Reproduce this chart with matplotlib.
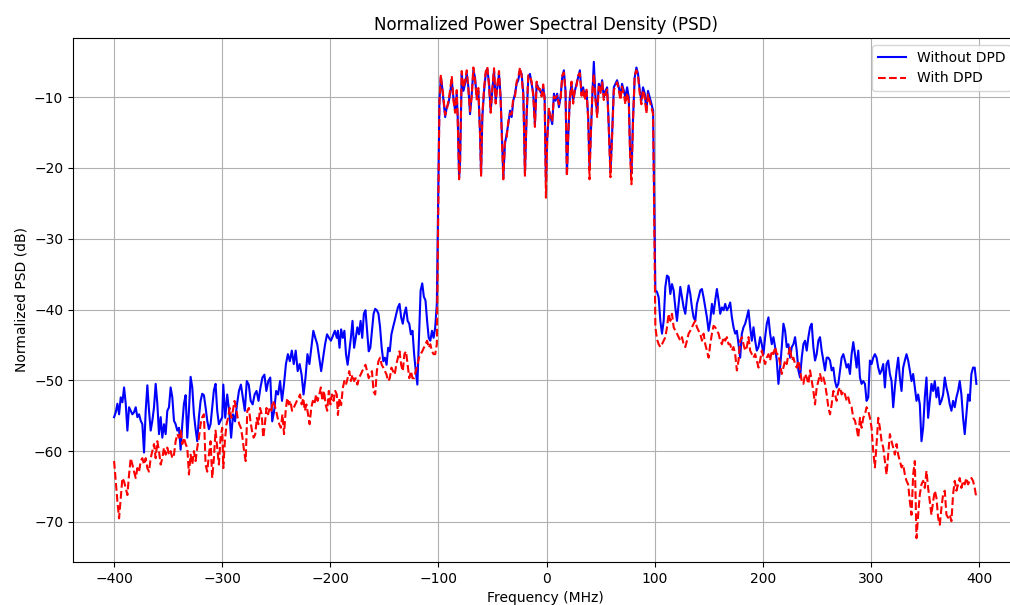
import numpy as np
import matplotlib.pyplot as plt

# PSD values (dB), out-of-band split in stretches
# lower sideband: -400..-300, -300..-195, -195..-100 MHz
no_dpd_a = [-55.2, -54.5, -53.3, -54.8, -52.4, -53.1, -51.0, -53.3, -57.1, -53.8,
            -54.3, -54.8, -54.5, -53.8, -55.2, -54.8, -55.7, -56.2, -60.2, -54.3,
            -50.7, -54.3, -57.1, -55.7, -53.8, -50.5, -53.3, -57.6, -55.2, -58.1,
            -56.2, -57.6, -54.3, -53.8, -51.0, -52.4, -55.7, -56.2, -57.1, -56.7,
            -59.8, -56.2, -53.3, -52.1, -58.1, -54.3, -49.5, -51.0, -54.8, -56.9,
            -58.6, -55.2, -52.9, -51.9, -52.1, -53.8, -55.7, -56.9, -56.2, -53.8,
            -51.4, -50.5, -54.3, -56.2, -55.7, -55.2]
no_dpd_b = [-50.6, -55.3, -52.0, -54.3, -58.1, -54.8, -55.8, -53.4, -51.5, -50.6,
            -52.5, -54.3, -50.1, -50.6, -52.9, -53.4, -52.0, -51.5, -52.9, -51.0,
            -49.6, -49.2, -51.5, -50.1, -49.6, -55.8, -54.3, -51.5, -52.0, -50.1,
            -52.9, -50.6, -47.7, -46.3, -47.3, -45.8, -47.7, -45.8, -48.7, -47.7,
            -49.2, -52.0, -49.6, -46.3, -47.7, -45.4, -43.0, -44.0, -44.9, -46.8,
            -48.7, -46.8, -44.9, -43.5, -44.0, -44.4, -43.7, -43.0, -44.0]
no_dpd_c = [-43.0, -45.4, -42.8, -44.0, -43.0, -46.3, -47.8, -45.9, -44.0, -41.6,
            -45.4, -44.0, -42.5, -43.5, -41.6, -44.0, -40.6, -40.1, -43.0, -45.9,
            -45.4, -43.0, -40.6, -39.9, -40.1, -40.6, -42.5, -45.4, -47.3, -46.8,
            -47.8, -45.4, -45.9, -43.5, -42.5, -41.6, -40.6, -39.7, -39.2, -41.1,
            -42.0, -40.6, -39.7, -41.6, -42.0, -43.5, -43.0, -46.3, -48.7, -50.6,
            -44.0, -37.3, -36.3, -38.2, -38.7, -41.6, -44.0, -44.4, -43.0, -44.0,
            -42.5, -39.2]

dpd_a = [-61.4, -64.3, -67.1, -69.5, -66.7, -63.8, -64.3, -65.2, -66.2, -63.3,
         -61.0, -61.9, -62.9, -63.8, -62.4, -62.9, -61.4, -61.0, -61.9, -61.0,
         -62.4, -62.9, -61.0, -60.0, -59.0, -61.0, -58.6, -60.0, -61.9, -61.0,
         -59.5, -60.5, -59.5, -60.5, -60.0, -61.0, -60.5, -58.6, -57.6, -58.1,
         -57.1, -59.0, -58.1, -59.0, -59.5, -63.3, -60.5, -61.9, -60.0, -61.4,
         -59.5, -58.1, -56.2, -55.2, -54.8, -61.9, -62.9, -60.5, -58.6, -63.8,
         -61.0, -57.1, -59.5, -61.9, -58.1, -56.7]
dpd_b = [-62.4, -58.6, -56.2, -55.3, -53.9, -55.3, -54.3, -52.9, -53.9, -55.3,
         -56.2, -56.7, -58.1, -60.0, -61.4, -54.3, -53.9, -55.8, -57.2, -58.1,
         -57.6, -55.3, -56.2, -53.9, -54.8, -58.1, -56.2, -53.9, -54.8, -53.9,
         -54.3, -52.9, -53.4, -54.3, -55.3, -56.2, -56.7, -54.8, -57.6, -54.3,
         -52.5, -53.4, -52.9, -54.3, -53.9, -53.4, -52.9, -52.5, -52.0, -53.4,
         -52.5, -54.3, -53.4, -54.8, -56.2, -53.9, -52.9, -53.4, -52.0, -52.9,
         -52.0, -51.0, -52.9, -51.5, -53.4, -54.3, -51.5, -53.4, -52.0, -52.9,
         -51.5, -52.0]
dpd_c = [-54.9, -52.5, -53.5, -51.1, -50.1, -50.6, -49.7, -48.7, -50.1, -49.2,
         -50.1, -49.7, -50.6, -49.7, -49.2, -48.7, -48.2, -47.8, -48.7, -49.7,
         -49.2, -48.7, -51.6, -52.0, -48.7, -47.3, -46.8, -47.8, -48.2, -48.7,
         -49.2, -50.1, -49.7, -48.2, -48.7, -49.2, -47.8, -46.8, -45.9, -47.8,
         -48.7, -46.3, -45.9, -47.8, -49.7, -48.7, -49.7, -49.7, -48.7, -47.8,
         -46.8, -46.3, -45.9, -45.4, -44.9, -44.4, -45.4, -44.9, -45.9, -46.3,
         -46.3, -44.9]

# occupied band, -100..100 MHz (dips every ~20 MHz)
band_freq = [-99.1, -97.8, -96.9, -96.0, -94.8, -93.8, -92.3, -90.8, -89.2, -87.7,
             -86.2, -84.6, -83.1, -82.2, -80.9, -80.0, -78.5, -76.9, -75.4, -73.8,
             -72.3, -70.8, -69.2, -67.7, -66.2, -64.6, -63.1, -61.5, -60.6, -59.4,
             -57.8, -56.3, -54.8, -53.2, -51.7, -50.2, -48.6, -47.1, -45.5, -44.0,
             -42.5, -41.2, -40.0, -38.5, -36.9, -35.4, -33.8, -32.3, -30.8, -29.2,
             -27.7, -26.2, -24.6, -23.1, -21.5, -20.0, -18.5, -16.9, -15.4, -13.8,
             -12.3, -10.8, -9.2, -7.7, -6.2, -4.6, -3.1, -1.8, -0.6, 0.6,
             2.2, 3.7, 5.2, 6.8, 8.3, 9.8, 11.4, 12.9, 14.5, 16.0,
             17.5, 18.8, 20.0, 21.5, 23.1, 24.6, 26.2, 27.7, 29.2, 30.8,
             32.3, 33.8, 35.4, 36.9, 38.5, 39.7, 40.9, 42.5, 43.7, 45.2,
             46.8, 48.3, 49.8, 51.4, 52.9, 54.5, 56.0, 57.2, 59.1, 60.6,
             62.2, 63.7, 65.2, 66.8, 68.3, 69.8, 71.4, 72.9, 74.5, 76.0,
             77.2, 78.5, 80.0, 81.5, 83.1, 84.6, 86.2, 87.7, 89.2, 90.8,
             92.3, 93.8, 95.4, 96.9, 98.5]
no_dpd_band = [-10.5, -7.2, -8.1, -9.5, -11.4, -12.8, -11.4, -10.9, -9.5, -7.6,
               -10.0, -11.9, -9.5, -12.8, -21.3, -19.0, -6.7, -9.1, -8.1, -6.7,
               -8.6, -12.4, -9.5, -6.2, -7.2, -10.0, -9.1, -15.2, -20.8, -12.8,
               -9.1, -6.7, -6.0, -8.1, -11.9, -9.1, -6.2, -10.5, -8.6, -6.7,
               -10.0, -16.1, -21.3, -16.6, -15.2, -13.8, -11.9, -12.8, -10.5, -9.5,
               -8.1, -7.6, -6.2, -6.7, -9.5, -20.8, -12.8, -7.2, -6.7, -8.1,
               -9.5, -13.8, -8.1, -8.6, -9.1, -9.5, -8.6, -10.0, -21.8, -15.7,
               -11.9, -12.8, -13.8, -9.5, -10.5, -9.5, -11.4, -10.0, -7.2, -6.2,
               -9.1, -20.8, -15.7, -10.0, -8.1, -10.5, -9.1, -8.1, -7.2, -6.2,
               -9.5, -8.6, -10.0, -9.1, -12.8, -19.9, -15.2, -9.1, -5.0, -10.0,
               -12.4, -8.1, -9.1, -7.6, -10.0, -9.1, -8.6, -12.8, -20.4, -15.2,
               -8.6, -8.1, -7.6, -8.6, -10.0, -8.1, -9.1, -10.0, -8.6, -10.0,
               -17.5, -20.8, -12.8, -7.2, -5.8, -6.7, -9.1, -10.5, -8.6, -9.5,
               -11.9, -9.1, -10.0, -10.9, -11.9]
dpd_band = [-10.8, -6.8, -8.4, -9.2, -11.0, -12.5, -11.8, -10.5, -9.0, -7.0,
            -10.4, -12.2, -9.0, -13.2, -21.6, -19.5, -6.3, -8.7, -7.6, -6.2,
            -9.0, -12.0, -9.8, -5.8, -7.5, -10.3, -8.7, -15.6, -21.1, -12.3,
            -8.7, -6.4, -5.7, -8.5, -12.2, -8.8, -5.9, -10.9, -8.2, -6.3,
            -10.4, -16.5, -21.6, -16.2, -15.6, -13.4, -12.3, -12.4, -10.1, -9.9,
            -7.8, -7.2, -5.8, -7.0, -9.9, -21.1, -12.4, -6.9, -7.0, -7.8,
            -9.9, -14.2, -7.8, -8.9, -8.8, -9.9, -8.2, -10.4, -24.2, -16.1,
            -11.5, -13.2, -13.4, -9.9, -10.1, -9.8, -11.0, -10.4, -6.9, -6.5,
            -9.4, -21.2, -15.3, -10.4, -7.8, -10.9, -8.8, -8.4, -6.9, -6.6,
            -9.8, -8.9, -10.4, -8.8, -13.2, -21.6, -15.6, -8.8, -6.7, -10.4,
            -12.8, -8.5, -9.4, -7.9, -10.4, -9.5, -8.9, -13.2, -21.3, -15.6,
            -9.0, -8.5, -7.9, -9.0, -10.4, -8.5, -9.5, -11.0, -9.4, -10.6,
            -18.0, -22.3, -13.2, -6.9, -6.2, -7.0, -9.5, -11.0, -9.0, -10.0,
            -12.3, -9.6, -10.6, -11.4, -12.4]

# upper sideband, 100..398 MHz
no_dpd_upper = [-37.3, -37.5, -38.3, -41.6, -43.4, -41.6, -36.8, -35.2, -35.4, -37.8,
                -36.4, -37.3, -39.7, -41.6, -39.2, -36.8, -38.3, -39.7, -40.6, -38.3,
                -36.6, -37.8, -39.7, -41.1, -41.6, -39.2, -38.3, -37.3, -37.1, -38.3,
                -39.7, -41.1, -43.0, -41.6, -39.2, -40.6, -38.7, -37.1, -38.7, -40.6,
                -39.7, -40.1, -39.2, -40.1, -39.7, -39.0, -41.1, -42.5, -43.4, -43.0,
                -44.9, -46.8, -43.4, -42.5, -42.0, -41.1, -40.1, -42.5, -44.4, -42.5,
                -44.4, -45.8, -45.3, -43.9, -44.9, -46.3, -43.9, -42.0, -41.1, -43.4,
                -44.9, -43.9, -45.3, -47.2, -50.5, -48.2, -45.3, -42.0, -43.0, -45.3,
                -44.9, -46.8, -45.3, -44.9, -43.9, -45.8, -48.6, -49.6, -46.8, -44.9,
                -44.4, -45.8, -43.9, -42.5, -42.0, -45.3, -47.2, -46.3, -44.4, -43.9,
                -45.8, -47.2, -48.6, -46.8, -46.8, -47.2, -48.6, -48.2, -50.1, -51.0,
                -50.5, -48.6, -46.8, -46.3, -47.2, -48.2, -47.7, -49.1, -46.3, -44.6,
                -46.3, -48.2, -45.8, -49.6, -50.5, -50.1, -50.5, -52.9, -52.4, -47.2,
                -47.7, -46.8, -46.3, -46.8, -48.2, -49.1, -48.6, -47.7, -51.0, -47.7,
                -47.2, -49.1, -50.1, -53.8, -51.0, -48.6, -46.8, -49.6, -51.5, -48.2,
                -47.2, -46.3, -47.2, -48.6, -50.1, -49.1, -51.0, -52.9, -52.0, -53.4,
                -58.6, -56.7, -52.4, -49.6, -55.3, -52.9, -50.5, -51.5, -50.1, -52.4,
                -51.0, -53.4, -52.9, -52.0, -49.6, -51.0, -52.0, -53.4, -54.3, -52.9,
                -53.8, -52.4, -51.5, -50.1, -52.0, -55.3, -57.6, -54.8, -52.0, -52.9,
                -49.1, -48.2, -48.2, -50.5]
dpd_upper = [-42.5, -44.2, -44.9, -45.3, -44.9, -44.4, -43.9, -42.5, -40.6, -41.6,
             -40.6, -42.5, -43.0, -43.4, -43.9, -44.4, -43.9, -44.9, -45.3, -44.4,
             -43.4, -43.0, -42.5, -42.0, -41.6, -42.5, -43.0, -43.4, -44.4, -43.4,
             -44.9, -45.8, -46.8, -44.9, -43.4, -42.3, -42.5, -43.0, -43.4, -44.4,
             -44.9, -43.9, -44.4, -43.9, -44.9, -44.9, -45.8, -45.3, -46.3, -48.6,
             -47.2, -44.4, -43.9, -44.9, -45.8, -45.3, -43.9, -45.8, -46.3, -46.8,
             -46.3, -47.2, -48.2, -47.2, -45.8, -46.8, -47.7, -46.8, -46.3, -47.2,
             -45.8, -46.3, -45.3, -46.3, -46.3, -47.7, -49.1, -48.2, -47.2, -47.7,
             -46.3, -45.3, -47.2, -46.8, -47.7, -48.2, -47.2, -48.6, -50.1, -50.5,
             -49.1, -49.6, -50.5, -48.6, -50.1, -51.5, -53.4, -51.0, -50.1, -49.1,
             -50.1, -49.6, -50.5, -52.0, -53.8, -54.8, -53.4, -51.5, -52.0, -52.9,
             -51.5, -51.0, -52.0, -51.5, -52.0, -52.9, -52.4, -53.4, -53.8, -55.3,
             -55.7, -56.7, -58.1, -55.3, -56.7, -55.3, -54.8, -53.8, -54.3, -55.3,
             -56.7, -60.0, -62.3, -59.0, -55.3, -56.7, -58.6, -59.5, -61.4, -63.3,
             -60.5, -57.6, -58.6, -59.5, -60.5, -59.0, -60.5, -61.4, -62.3, -61.9,
             -63.3, -64.2, -64.7, -67.1, -69.0, -63.3, -61.4, -72.3, -69.0, -66.1,
             -64.7, -64.2, -65.2, -62.8, -65.2, -67.1, -69.0, -67.1, -65.6, -66.6,
             -69.4, -70.4, -68.0, -66.1, -65.6, -69.0, -69.4, -69.0, -69.9, -66.1,
             -64.2, -65.6, -64.7, -63.8, -65.2, -64.2, -64.7, -63.8, -64.7, -64.2,
             -63.8, -64.2, -65.2, -66.6]


def stitch(a, b, c, band, upper):
    freq = np.concatenate([
        np.linspace(-400, -300, len(a)),
        np.linspace(-299, -194, len(b)),
        np.linspace(-193, -101.5, len(c)),
        band_freq,
        np.linspace(100.6, 397.5, len(upper)),
    ])
    psd = np.concatenate([a, b, c, band, upper])
    return freq, psd


f1, p1 = stitch(no_dpd_a, no_dpd_b, no_dpd_c, no_dpd_band, no_dpd_upper)
f2, p2 = stitch(dpd_a, dpd_b, dpd_c, dpd_band, dpd_upper)

fig = plt.figure(figsize=(10.1, 6.05), dpi=100)
ax = fig.add_axes([73 / 1010, 43 / 605, 945 / 1010, 524 / 605])

ax.plot(f1, p1, 'b-', label='Without DPD')
ax.plot(f2, p2, 'r--', label='With DPD')
ax.set_xlim(-438, 436)
ax.set_title('Normalized Power Spectral Density (PSD)')
ax.set_xlabel('Frequency (MHz)')
ax.set_ylabel('Normalized PSD (dB)')
ax.grid(True)
ax.legend(loc='upper right')

fig.savefig('out.png', dpi=100)
